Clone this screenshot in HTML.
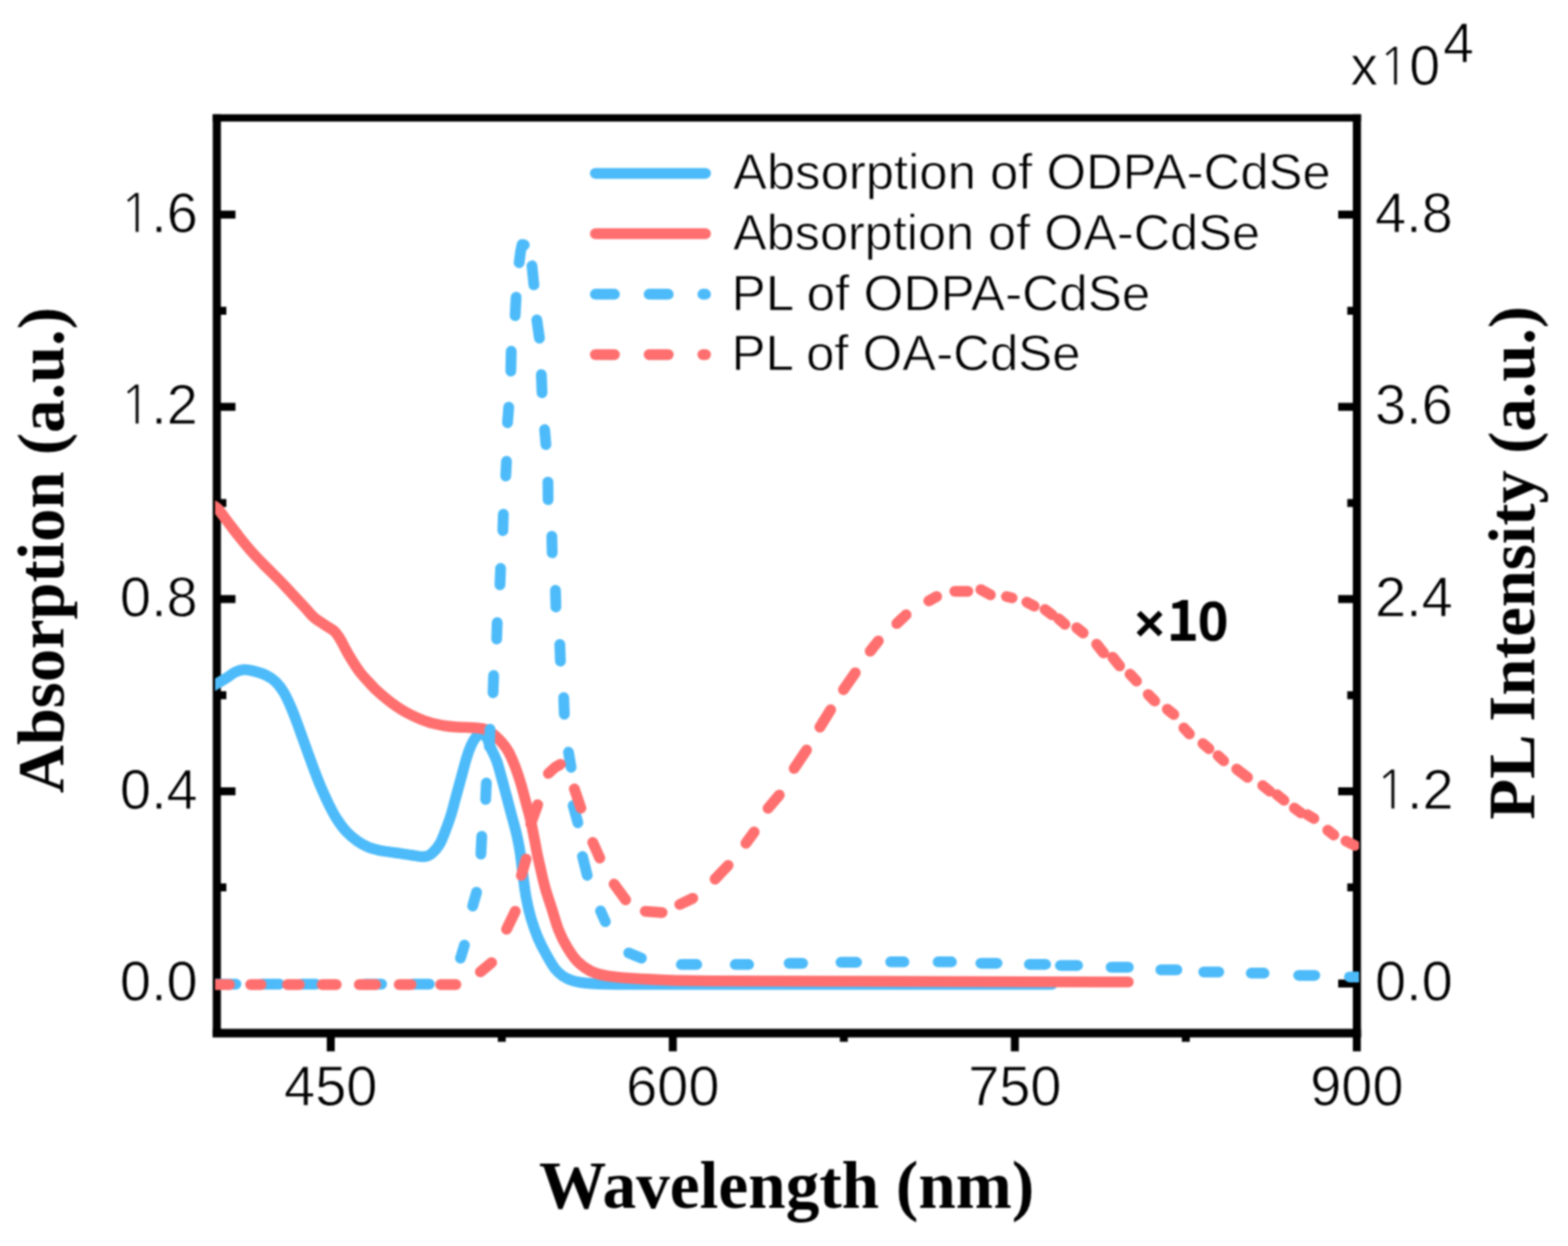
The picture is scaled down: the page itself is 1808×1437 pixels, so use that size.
<!DOCTYPE html>
<html><head><meta charset="utf-8"><title>Absorption and PL spectra of CdSe</title>
<style>
html,body{margin:0;padding:0;background:#fff;}
svg{display:block;}
#w{width:1808px;height:1437px;}
</style></head>
<body>
<div id="w">
<svg width="1808" height="1437" viewBox="0 0 1808 1437" font-family="'Liberation Sans', Arial, sans-serif" fill="#000">
<defs><filter id="soft" x="0" y="0" width="1" height="1" color-interpolation-filters="sRGB"><feConvolveMatrix order="5" kernelMatrix="1 4 6 4 1 4 16 24 16 4 6 24 36 24 6 4 16 24 16 4 1 4 6 4 1" divisor="256" edgeMode="duplicate" preserveAlpha="true"/></filter><clipPath id="pa"><rect x="248" y="120" width="1319" height="1080"/></clipPath></defs>
<g filter="url(#soft)">
<rect width="1808" height="1437" fill="#fff"/>
<g fill="#000"><rect x="245.3" y="131.8" width="1324" height="8.4"/><rect x="245.3" y="131.8" width="9.4" height="1064.2"/><rect x="245.3" y="1186.5" width="1324" height="10"/><rect x="1559.9" y="131.8" width="9.4" height="1064.2"/></g>

<g stroke="#000" stroke-width="9.2"><line x1="250" y1="1134.3" x2="271.5" y2="1134.3"/>
<line x1="1564.5" y1="1134.3" x2="1543.0" y2="1134.3"/>
<line x1="250" y1="912.6" x2="271.5" y2="912.6"/>
<line x1="1564.5" y1="912.6" x2="1543.0" y2="912.6"/>
<line x1="250" y1="690.9" x2="271.5" y2="690.9"/>
<line x1="1564.5" y1="690.9" x2="1543.0" y2="690.9"/>
<line x1="250" y1="469.2" x2="271.5" y2="469.2"/>
<line x1="1564.5" y1="469.2" x2="1543.0" y2="469.2"/>
<line x1="250" y1="247.5" x2="271.5" y2="247.5"/>
<line x1="1564.5" y1="247.5" x2="1543.0" y2="247.5"/>
<line x1="250" y1="1023.4" x2="261" y2="1023.4"/>
<line x1="1564.5" y1="1023.4" x2="1553.5" y2="1023.4"/>
<line x1="250" y1="801.8" x2="261" y2="801.8"/>
<line x1="1564.5" y1="801.8" x2="1553.5" y2="801.8"/>
<line x1="250" y1="580.1" x2="261" y2="580.1"/>
<line x1="1564.5" y1="580.1" x2="1553.5" y2="580.1"/>
<line x1="250" y1="358.4" x2="261" y2="358.4"/>
<line x1="1564.5" y1="358.4" x2="1553.5" y2="358.4"/>
<line x1="381.4" y1="1191" x2="381.4" y2="1212.5"/>
<line x1="775.8" y1="1191" x2="775.8" y2="1212.5"/>
<line x1="1170.2" y1="1191" x2="1170.2" y2="1212.5"/>
<line x1="1564.5" y1="1191" x2="1564.5" y2="1212.5"/>
<line x1="578.6" y1="1191" x2="578.6" y2="1201.5"/>
<line x1="973.0" y1="1191" x2="973.0" y2="1201.5"/>
<line x1="1367.3" y1="1191" x2="1367.3" y2="1201.5"/></g>
<g clip-path="url(#pa)">
<path d="M246.0,791.0C246.8,790.5 248.4,789.6 251.0,788.0C253.6,786.4 258.4,783.7 261.7,781.6C265.0,779.5 267.5,776.9 270.8,775.3C274.1,773.7 277.7,772.4 281.6,772.2C285.5,772.1 290.1,773.3 294.3,774.4C298.5,775.5 303.1,776.9 307.0,778.9C310.9,780.9 314.5,783.0 317.8,786.2C321.1,789.4 324.2,793.5 326.9,797.9C329.6,802.3 331.7,807.0 334.1,812.4C336.5,817.8 339.0,824.2 341.4,830.5C343.8,836.8 346.2,843.8 348.6,850.4C351.0,857.0 353.4,863.7 355.8,870.3C358.2,876.9 360.7,883.9 363.1,890.2C365.5,896.5 367.6,902.0 370.3,908.3C373.0,914.6 376.4,922.2 379.4,928.2C382.4,934.2 385.1,939.4 388.4,944.5C391.7,949.6 395.4,954.8 399.3,959.0C403.2,963.2 407.7,966.9 411.9,969.9C416.1,972.9 420.1,975.2 424.6,977.1C429.1,979.0 433.8,979.9 439.1,981.0C444.4,982.1 450.3,982.6 456.2,983.5C462.1,984.4 468.9,985.5 474.3,986.2C479.7,987.0 484.9,988.3 488.8,988.0C492.7,987.7 494.8,986.7 497.8,984.3C500.8,981.9 504.2,978.0 506.9,973.5C509.6,969.0 511.8,962.6 514.0,957.0C516.2,951.4 518.0,946.5 520.0,940.0C522.0,933.5 524.0,925.3 526.0,918.0C528.0,910.7 530.0,903.3 532.0,896.0C534.0,888.7 536.1,880.2 538.0,874.0C539.9,867.8 541.7,863.0 543.5,859.0C545.3,855.0 547.1,852.1 549.0,850.0C550.9,847.9 553.1,846.7 555.0,846.5C556.9,846.3 558.7,846.3 560.5,849.0C562.3,851.7 563.9,857.9 566.0,862.7C568.1,867.5 570.8,872.2 572.9,878.0C575.0,883.8 576.6,890.8 578.5,897.5C580.4,904.2 582.2,911.4 584.1,918.4C586.0,925.4 587.8,932.3 589.6,939.3C591.5,946.3 593.6,953.2 595.2,960.2C596.8,967.2 598.2,973.5 599.4,981.0C600.6,988.5 601.3,996.2 602.5,1005.0C603.7,1013.8 604.9,1025.1 606.5,1034.0C608.1,1042.9 609.9,1050.6 612.1,1058.4C614.4,1066.2 617.1,1074.1 620.0,1081.0C622.9,1087.9 626.0,1093.8 629.5,1100.0C633.0,1106.2 636.8,1113.7 641.0,1118.5C645.2,1123.3 649.3,1126.5 655.0,1129.0C660.7,1131.5 665.8,1132.8 675.0,1133.8C684.2,1134.8 689.2,1135.0 710.0,1135.2C730.8,1135.5 716.2,1135.3 800.0,1135.3C883.8,1135.3 1144.2,1135.3 1213.0,1135.3" fill="none" stroke="#4DBBF9" stroke-width="12.5" stroke-linecap="round" stroke-linejoin="round"/>
<path d="M246.0,583.0C246.8,583.6 248.3,583.5 251.0,586.5C253.7,589.5 258.0,595.8 262.0,601.0C266.0,606.2 270.5,612.3 275.0,618.0C279.5,623.7 284.0,629.3 289.0,635.0C294.0,640.7 299.3,646.2 305.0,652.0C310.7,657.8 317.7,664.5 323.0,670.0C328.3,675.5 332.3,680.0 337.0,685.0C341.7,690.0 346.8,695.5 351.0,700.0C355.2,704.5 358.0,708.5 362.0,712.0C366.0,715.5 371.2,718.4 375.0,721.0C378.8,723.6 382.3,725.2 385.0,727.5C387.7,729.8 389.0,731.9 391.0,735.0C393.0,738.1 395.1,742.5 397.0,746.0C398.9,749.5 400.5,752.6 402.5,756.0C404.5,759.4 406.8,763.1 409.0,766.5C411.2,769.9 413.4,773.2 416.0,776.5C418.6,779.8 421.7,782.9 424.5,786.0C427.3,789.1 430.1,792.2 433.0,795.0C435.9,797.8 438.8,800.3 442.0,803.0C445.2,805.7 448.5,808.4 452.0,811.0C455.5,813.6 459.3,816.2 463.0,818.5C466.7,820.8 470.3,822.7 474.0,824.5C477.7,826.3 481.0,827.9 485.0,829.5C489.0,831.1 493.4,832.8 498.0,834.0C502.6,835.2 507.9,836.2 512.7,837.0C517.5,837.8 522.3,838.2 527.0,838.5C531.7,838.8 535.9,838.6 541.0,839.0C546.1,839.4 553.1,839.4 557.6,840.6C562.1,841.8 565.0,843.9 568.0,846.0C571.0,848.1 572.8,849.8 575.7,853.0C578.6,856.2 582.5,860.4 585.5,865.5C588.5,870.6 591.2,877.1 593.8,883.6C596.3,890.1 598.7,897.5 600.8,904.5C602.9,911.5 604.5,918.3 606.4,925.3C608.2,932.2 610.3,939.2 611.9,946.2C613.5,953.2 614.8,960.6 616.1,967.1C617.4,973.6 618.4,979.5 619.5,985.0C620.6,990.5 621.4,993.5 622.9,1000.0C624.4,1006.5 626.4,1016.2 628.7,1024.3C631.0,1032.4 633.9,1040.6 636.5,1048.7C639.1,1056.8 641.4,1065.7 644.3,1073.0C647.2,1080.3 650.4,1086.5 654.0,1092.5C657.6,1098.5 661.3,1104.3 666.0,1109.0C670.7,1113.7 676.6,1117.8 682.3,1120.5C688.0,1123.2 690.4,1124.1 700.0,1125.5C709.6,1126.9 723.3,1128.1 740.0,1129.0C756.7,1129.9 773.3,1130.6 800.0,1131.0C826.7,1131.4 816.5,1131.2 900.0,1131.5C983.5,1131.8 1234.2,1132.3 1301.0,1132.5" fill="none" stroke="#FF6F6F" stroke-width="12.5" stroke-linecap="round" stroke-linejoin="round"/>
<path d="M242.0,1135.0 L272.0,1135.0 M302.0,1135.0 L322.0,1135.0 M348.0,1135.0 L364.0,1135.0 M421.0,1135.0 L440.0,1135.0 M476.0,1135.0 L495.0,1135.0 M531.0,1105.0 L535.5,1090.0 M545.0,1045.0 L549.5,1029.0 M554.5,985.0 L555.5,964.5 M560.0,922.0 L560.8,903.0 M564.2,861.0 L565.0,841.0 M568.5,799.0 L569.2,779.0 M572.7,737.0 L573.3,718.0 M576.5,674.5 L577.2,655.5 M579.8,612.0 L580.4,593.0 M583.2,549.0 L584.0,532.0 M585.2,487.5 L586.6,469.5 M589.0,428.0 L589.5,405.0 M594.0,364.0 L595.1,342.8 M598.6,303.0 L600.3,290.0 L602.0,282.0 L604.5,282.5 M613.4,306.6 L615.6,328.6 M619.0,369.0 L622.0,390.0 M624.2,432.0 L625.0,453.0 M628.0,495.5 L629.5,512.7 M631.8,556.0 L632.0,576.3 M636.3,618.4 L636.7,637.6 M640.5,680.8 L641.0,700.0 M645.5,743.2 L646.2,762.4 M650.0,804.5 L650.7,823.7 M655.5,867.5 L658.5,885.0 M660.9,929.0 L666.3,948.9 M671.7,987.8 L677.1,1009.5 M692.5,1050.5 L698.0,1063.0 M725.0,1099.0 L739.5,1105.0 M785.6,1112.3 L803.4,1112.3 M847.8,1112.3 L863.2,1112.3 M910.0,1111.0 L925.4,1111.0 M969.7,1109.8 L987.6,1109.8 M1027.0,1109.3 L1042.3,1109.3 M1081.7,1109.3 L1097.1,1109.3 M1131.0,1110.9 L1149.6,1110.9 M1187.0,1112.2 L1205.6,1112.2 M1222.7,1113.4 L1242.5,1113.4 M1281.2,1115.5 L1301.0,1115.5 M1338.5,1118.5 L1357.0,1118.5 M1388.0,1121.0 L1405.3,1121.0 M1442.8,1122.3 L1457.5,1122.3 M1497.5,1124.9 L1516.0,1124.9 M1556.0,1126.7 L1574.0,1126.7" fill="none" stroke="#4DBBF9" stroke-width="12.5" stroke-linecap="round" stroke-linejoin="round"/>
<path d="M242.0,1135.5 L264.7,1135.5 M289.0,1135.5 L301.0,1135.5 M331.5,1135.5 L345.2,1135.5 M371.4,1135.5 L387.7,1135.5 M414.3,1135.5 L433.2,1135.5 M460.3,1135.5 L474.0,1135.5 M508.0,1135.5 L525.7,1135.5 M553.9,1120.8 L566.9,1110.2 M584.1,1071.7 L594.1,1051.0 M601.2,1009.6 L606.6,990.7 M612.0,950.0 L620.0,928.0 M632.3,892.0 L640.0,885.0 L646.2,881.6 M662.3,909.8 L669.8,932.0 M683.5,971.5 L691.6,989.6 M708.1,1019.6 L721.4,1037.8 M744.0,1051.0 L763.5,1052.4 M783.8,1043.1 L798.8,1036.0 M824.5,1013.9 L839.6,998.0 M860.1,972.5 L869.6,959.5 M885.6,932.3 L898.6,916.9 M915.7,886.2 L930.0,864.9 M945.4,838.6 L957.8,818.5 M972.6,795.4 L986.2,775.9 M1003.4,751.0 L1012.8,739.2 M1034.1,719.1 L1044.8,709.0 M1071.0,693.0 L1080.0,688.0 M1101.0,682.0 L1116.0,682.0 M1131.0,680.0 L1142.0,686.0 M1160.5,688.0 L1167.0,689.5 M1184.0,694.5 L1192.5,699.0 M1205.0,703.0 L1213.0,709.0 M1220.5,713.5 L1228.0,720.0 M1241.5,724.0 L1249.0,730.0 M1264.5,743.0 L1272.5,753.0 M1283.0,758.0 L1291.0,768.0 M1303.0,777.5 L1310.5,785.5 M1324.0,801.0 L1331.5,808.5 M1346.0,818.0 L1353.5,824.0 M1365.0,839.5 L1371.5,846.5 M1387.0,857.5 L1394.0,863.5 M1404.5,871.5 L1411.0,877.5 M1426.0,887.0 L1438.5,896.5 M1456.0,906.0 L1464.0,912.5 M1472.5,916.5 L1480.5,923.0 M1492.5,932.0 L1500.0,937.5 M1507.5,939.5 L1515.0,944.0 M1531.0,957.5 L1538.0,963.0 M1552.0,970.0 L1562.0,975.0" fill="none" stroke="#FF6F6F" stroke-width="12.5" stroke-linecap="round" stroke-linejoin="round"/>
</g>
<g font-size="64.5" stroke="#fff" stroke-width="0.9"><text x="228" y="1154.4" text-anchor="end">0.0</text>
<text x="228" y="932.7" text-anchor="end">0.4</text>
<text x="228" y="711.0" text-anchor="end">0.8</text>
<text x="228" y="489.3" text-anchor="end"><tspan font-family="NanumGothic, Liberation Sans, sans-serif" font-size="61.5">1</tspan><tspan dx="-0.5">.</tspan>2</text>
<text x="228" y="267.6" text-anchor="end"><tspan font-family="NanumGothic, Liberation Sans, sans-serif" font-size="61.5">1</tspan><tspan dx="-0.5">.</tspan>6</text>
<text x="1585.5" y="1154.4">0.0</text>
<text x="1585.5" y="932.7"><tspan font-family="NanumGothic, Liberation Sans, sans-serif" font-size="61.5">1</tspan><tspan dx="-0.5">.</tspan>2</text>
<text x="1585.5" y="711.0">2.4</text>
<text x="1585.5" y="489.3">3.6</text>
<text x="1585.5" y="267.6">4.8</text>
<text x="381.4" y="1274.5" text-anchor="middle">450</text>
<text x="775.8" y="1274.5" text-anchor="middle">600</text>
<text x="1170.2" y="1274.5" text-anchor="middle">750</text>
<text x="1564.5" y="1274.5" text-anchor="middle">900</text></g>
<line x1="686.5" y1="199.9" x2="813.5" y2="199.9" stroke="#4DBBF9" stroke-width="12.5" stroke-linecap="round"/>
<text x="845.2" y="218.3" font-size="56.5" textLength="689.2" lengthAdjust="spacingAndGlyphs" stroke="#fff" stroke-width="0.8">Absorption of ODPA-CdSe</text>
<line x1="686.5" y1="269.6" x2="813.5" y2="269.6" stroke="#FF6F6F" stroke-width="12.5" stroke-linecap="round"/>
<text x="845.2" y="288.0" font-size="56.5" textLength="607.6" lengthAdjust="spacingAndGlyphs" stroke="#fff" stroke-width="0.8">Absorption of OA-CdSe</text>
<line x1="686.5" y1="339.3" x2="813.5" y2="339.3" stroke="#4DBBF9" stroke-width="12.5" stroke-linecap="round" stroke-dasharray="22 40"/>
<text x="843.5" y="357.7" font-size="56.5" textLength="483" lengthAdjust="spacingAndGlyphs" stroke="#fff" stroke-width="0.8">PL of ODPA-CdSe</text>
<line x1="686.5" y1="409.0" x2="813.5" y2="409.0" stroke="#FF6F6F" stroke-width="12.5" stroke-linecap="round" stroke-dasharray="22 40"/>
<text x="843.5" y="427.4" font-size="56.5" textLength="402.4" lengthAdjust="spacingAndGlyphs" stroke="#fff" stroke-width="0.8">PL of OA-CdSe</text>
<text x="1557" y="98" font-size="64" stroke="#fff" stroke-width="0.9">x<tspan font-family="NanumGothic, Liberation Sans, sans-serif" font-size="60">1</tspan><tspan dx="-0.5">0</tspan></text>
<text x="1664" y="72" font-size="64" stroke="#fff" stroke-width="0.9">4</text>
<text y="738.7" font-weight="bold"><tspan x="1308" font-size="60">×</tspan><tspan x="1345" font-size="64" font-family="Noto Sans CJK JP, Liberation Sans, sans-serif">1</tspan><tspan x="1381" font-size="64">0</tspan></text>
<text x="907" y="1392.6" text-anchor="middle" font-family="'Liberation Serif', 'Times New Roman', serif" font-weight="bold" font-size="77.6">Wavelength (nm)</text>
<text transform="translate(73,634.5) rotate(-90)" text-anchor="middle" font-family="'Liberation Serif', 'Times New Roman', serif" font-weight="bold" font-size="76.7">Absorption (a.u.)</text>
<text transform="translate(1769,649) rotate(-90)" text-anchor="middle" font-family="'Liberation Serif', 'Times New Roman', serif" font-weight="bold" font-size="76.7">PL Intensity (a.u.)</text>
</g>
</svg>
</div>
</body></html>
